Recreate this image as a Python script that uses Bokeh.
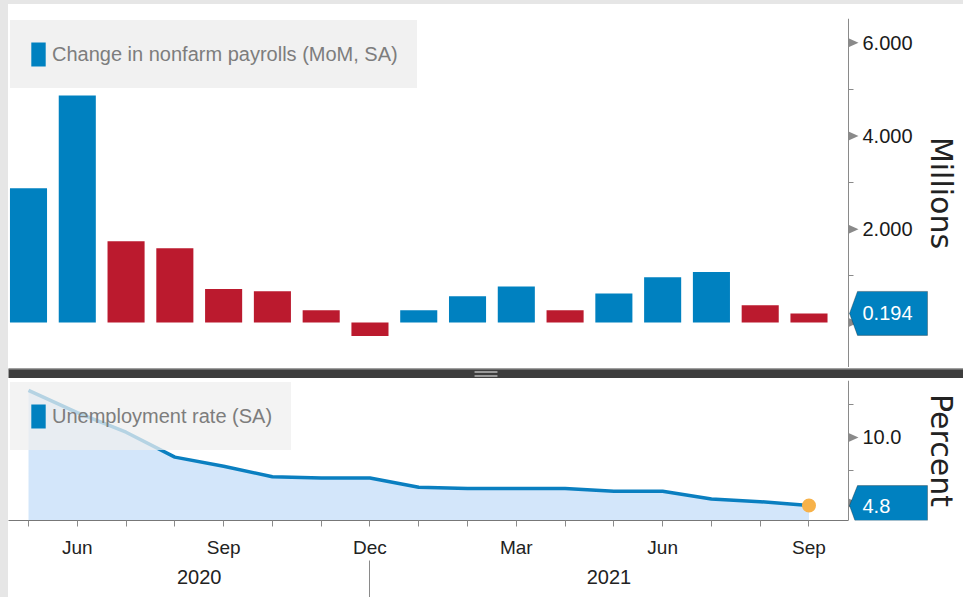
from bokeh.plotting import figure
from bokeh.models import (Range1d, LinearAxis, FixedTicker, Legend, LegendItem, Label,
                          ColumnDataSource, NumeralTickFormatter, Spacer, PolyAnnotation)
from bokeh.layouts import column, row
from bokeh.embed import file_html
from bokeh.resources import INLINE

# ---------------- data ----------------
months = ["May", "Jun", "Jul", "Aug", "Sep", "Oct", "Nov", "Dec",
          "Jan", "Feb", "Mar", "Apr", "May", "Jun", "Jul", "Aug", "Sep"]
labelled_months = ["Mar", "Jun", "Sep", "Dec"]
years = ["2020", "2021"]
year_label_pos = [3.5, 11.9]
year_separator = [7]
payrolls = [2.88, 4.87, 1.74, 1.59, 0.72, 0.67, 0.26, -0.29, 0.26, 0.56,
            0.77, 0.26, 0.62, 0.97, 1.08, 0.37, 0.194]
unemployment = [13.6, 11.9, 10.4, 8.5, 7.8, 7.0, 6.9, 6.9, 6.2, 6.1,
                 6.1, 6.1, 5.9, 5.9, 5.3, 5.1, 4.8]
payroll_ticks = [0, 2, 4, 6]
payroll_minor = [1, 3, 5]
unemp_ticks = [5, 10]
unemp_minor = [7.5, 12.5]

# ---------------- style / geometry ----------------
BLUE = "#0081c0"
RED = "#bb1a2e"
FONT = "Liberation Sans"
PAGE_GREY = "#e6e6e6"
AXIS_GREY = "#8a8a8a"
W = 955                 # frame spans the whole width; the value axis sits inside it
AXIS_PX = 840           # pixel position of the value axis inside the frame
XR_START = -0.41
AXIS_X = 16.81          # x (in months) where the value axis is drawn
PX_PER_MONTH = AXIS_PX / (AXIS_X - XR_START)
XR_END = XR_START + W / PX_PER_MONTH

x = list(range(len(months)))
colors = [BLUE if i == 0 or payrolls[i] >= payrolls[i - 1] else RED
          for i in range(len(payrolls))]

xr = Range1d(XR_START, XR_END)


def style_right_axis(ax, label, ticks, label_standoff):
    ax.fixed_location = AXIS_X
    ax.axis_label = label
    ax.axis_label_text_font = "DejaVu Sans"
    ax.axis_label_text_font_size = "30px"
    ax.axis_label_text_font_style = "normal"
    ax.axis_label_text_color = "#222222"
    ax.axis_label_standoff = label_standoff
    ax.major_label_text_font = FONT
    ax.major_label_text_font_size = "20px"
    ax.major_label_text_color = "#1a1a1a"
    ax.major_label_standoff = 6
    ax.major_tick_in = 0
    ax.major_tick_out = 8
    ax.major_tick_line_alpha = 0          # drawn as triangles below
    ax.minor_tick_in = 0
    ax.minor_tick_out = 5
    ax.minor_tick_line_color = AXIS_GREY
    ax.axis_line_color = AXIS_GREY
    # the lowest tick sits under the value badge
    ax.major_label_overrides = {ticks[0]: ""}


def add_tick_triangles(p, ticks, yrange, frame_h):
    upp = (yrange.end - yrange.start) / frame_h
    for t in ticks:
        p.add_layout(PolyAnnotation(xs=[AXIS_PX, AXIS_PX + 10, AXIS_PX], xs_units="screen",
                                    ys=[t + 4.5 * upp, t, t - 4.5 * upp], ys_units="data",
                                    fill_color=AXIS_GREY, fill_alpha=1, line_color=None))


def add_badge(p, value, text, yrange, frame_h, up_px, down_px):
    upp = (yrange.end - yrange.start) / frame_h
    room = (value - yrange.start) / upp
    dn = min(down_px, room)
    tip_dn = 8 * dn / down_px
    top = value + up_px * upp
    bottom = value - dn * upp
    p.add_layout(PolyAnnotation(xs=[AXIS_PX + 1, AXIS_PX + 9, AXIS_PX + 79, AXIS_PX + 79,
                                    AXIS_PX + 1 + tip_dn],
                                xs_units="screen",
                                ys=[value, top, top, bottom, bottom], ys_units="data",
                                fill_color=BLUE, fill_alpha=1,
                                line_color="#111111", line_width=1))
    p.add_layout(Label(x=AXIS_PX + 14, x_units="screen", y=value, y_units="data",
                       text=text, text_font=FONT, text_font_size="20px",
                       text_color="white", text_baseline="middle", text_align="left"))


def make_legend(text, renderer, alpha):
    return Legend(items=[LegendItem(label=text, renderers=[renderer], index=0)],
                  location="top_left", margin=2, padding=19,
                  glyph_width=18, glyph_height=30, label_height=30,
                  label_standoff=5, label_text_font=FONT,
                  label_text_font_size="20px", label_text_color="#7d7d7d",
                  background_fill_color="#efefef", background_fill_alpha=alpha,
                  border_line_color="#efefef", border_line_alpha=0)


# ---------------- top panel: payrolls ----------------
y1 = Range1d(-0.966, 6.52)
F1_H = 349
p1 = figure(frame_width=W, frame_height=F1_H, x_range=xr, y_range=y1,
            output_backend="svg", toolbar_location=None,
            x_axis_location=None, y_axis_location="right",
            min_border_left=0, min_border_right=0, min_border_top=14,
            min_border_bottom=0, outline_line_color=None)
p1.grid.visible = False
src1 = ColumnDataSource(dict(x=x, top=payrolls, color=colors))
bars = p1.vbar(x="x", top="top", bottom=0, width=0.76, fill_color="color",
               line_color=None, source=src1)

ax1 = p1.yaxis[0]
ax1.ticker = FixedTicker(ticks=payroll_ticks, minor_ticks=payroll_minor)
ax1.formatter = NumeralTickFormatter(format="0.000")
style_right_axis(ax1, "Millions", payroll_ticks, 8)
add_tick_triangles(p1, payroll_ticks, y1, F1_H)

p1.add_layout(make_legend("Change in nonfarm payrolls (MoM, SA)", bars, 0.9))
add_badge(p1, payrolls[-1], f"{payrolls[-1]:.3f}", y1, F1_H, 22, 22)

# ---------------- separator between panels ----------------
sep = figure(frame_width=W, frame_height=11, x_range=Range1d(0, 1), y_range=Range1d(0, 1),
             output_backend="svg", toolbar_location=None,
             x_axis_location=None, y_axis_location=None, min_border=0,
             outline_line_color=None, background_fill_color="#3d3d3d",
             border_fill_color="#3d3d3d")
sep.grid.visible = False
sep.segment(x0=[0, 0], y0=[0.96, 0.04], x1=[1, 1], y1=[0.96, 0.04],
            line_color=["#a8a8a8", "#6a6a6a"], line_width=1)
sep.segment(x0=[0.488, 0.488], y0=[0.68, 0.32], x1=[0.512, 0.512], y1=[0.68, 0.32],
            line_color="#9a9a9a", line_width=2)

# ---------------- bottom panel: unemployment ----------------
y2 = Range1d(3.66, 14.35)
F2_H = 140
p2 = figure(frame_width=W, frame_height=F2_H, x_range=xr, y_range=y2,
            output_backend="svg", toolbar_location=None,
            x_axis_location="below", y_axis_location="right",
            min_border_left=0, min_border_right=0, min_border_top=2,
            min_border_bottom=77, outline_line_color=None)
p2.grid.visible = False
src2 = ColumnDataSource(dict(x=x, y=unemployment))
p2.varea(x="x", y1=y2.start, y2="y", fill_color="#d3e6fa", source=src2)
swatch = p2.vbar(x="x", top="y", bottom="y", width=0.5, fill_color=BLUE,
                 line_color=None, source=src2)
p2.line("x", "y", line_color="#0a7fc0", line_width=3.5, source=src2)
p2.scatter(x=[x[-1]], y=[unemployment[-1]], size=14, fill_color="#f7b24a",
           line_color=None)

ax2 = p2.yaxis[0]
ax2.ticker = FixedTicker(ticks=unemp_ticks, minor_ticks=unemp_minor)
ax2.formatter = NumeralTickFormatter(format="0.0")
style_right_axis(ax2, "Percent", unemp_ticks, 20)
add_tick_triangles(p2, unemp_ticks, y2, F2_H)

xa = p2.xaxis[0]
xa.bounds = (XR_START, AXIS_X)
xa.ticker = FixedTicker(ticks=x)
xa.major_label_overrides = {i: (m if m in labelled_months else "")
                            for i, m in enumerate(months)}
xa.major_tick_in = 0
xa.major_tick_out = 6
xa.major_tick_line_color = AXIS_GREY
xa.axis_line_color = "#777777"
xa.major_label_standoff = 10
xa.major_label_text_font = FONT
xa.major_label_text_font_size = "19px"
xa.major_label_text_color = "#222222"

year_axis = LinearAxis(ticker=FixedTicker(ticks=year_label_pos, minor_ticks=year_separator),
                       major_label_overrides={pos: yr for pos, yr in zip(year_label_pos, years)},
                       major_tick_in=0, major_tick_out=0, minor_tick_in=0,
                       minor_tick_out=40, minor_tick_line_color=AXIS_GREY,
                       axis_line_color=None, major_label_standoff=-31,
                       major_label_text_font=FONT, major_label_text_font_size="20px",
                       major_label_text_color="#222222")
p2.add_layout(year_axis, "below")

p2.add_layout(make_legend("Unemployment rate (SA)", swatch, 0.75))
add_badge(p2, unemployment[-1], f"{unemployment[-1]:.1f}", y2, F2_H, 20, 22)

# ---------------- page assembly (grey edge like the reference) ----------------
left_edge = Spacer(width=8, height=597, styles={"background-color": PAGE_GREY})
top_edge = Spacer(width=W, height=4, styles={"background-color": PAGE_GREY})

layout = row(left_edge, column(top_edge, p1, sep, p2))
open("out.html", "w").write(file_html(layout, INLINE))
